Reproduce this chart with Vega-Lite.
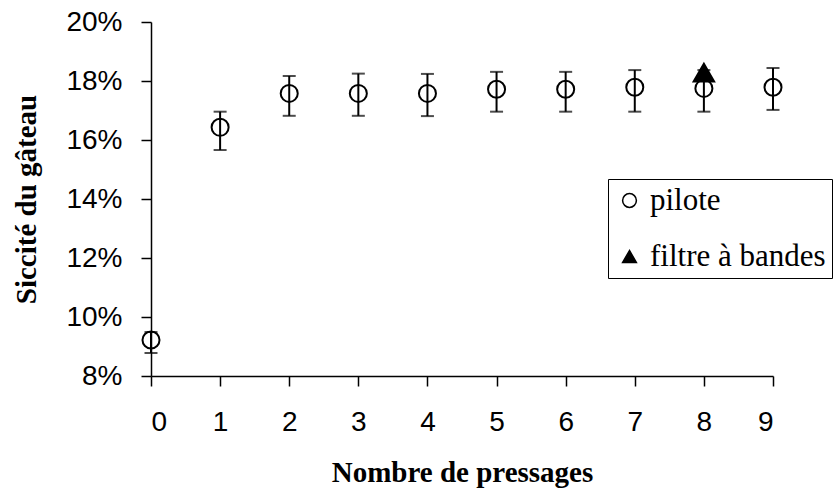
{
  "$schema": "https://vega.github.io/schema/vega-lite/v6.json",
  "autosize": "none",
  "width": 622,
  "height": 354,
  "padding": {"left": 151, "top": 22, "right": 61, "bottom": 117},
  "background": "white",
  "config": {
    "view": {"stroke": null},
    "axis": {
      "domainColor": "black", "domainWidth": 1.5, "tickColor": "black", "tickWidth": 1.5, "tickSize": 10,
      "labelFont": "Liberation Sans", "labelFontSize": 28, "labelColor": "black",
      "titleFont": "Liberation Serif", "titleFontSize": 29, "titleFontWeight": "bold", "titleColor": "black",
      "grid": false
    },
    "legend": {"labelFont": "Liberation Serif", "labelFontSize": 31, "labelColor": "black"}
  },
  "data": {"values": [
    {"series": "pilote", "x": 0, "y": 0.0922, "lo": 0.0878, "hi": 0.0949},
    {"series": "pilote", "x": 1, "y": 0.1643, "lo": 0.1566, "hi": 0.1696},
    {"series": "pilote", "x": 2, "y": 0.1758, "lo": 0.1682, "hi": 0.1817},
    {"series": "pilote", "x": 3, "y": 0.1758, "lo": 0.1682, "hi": 0.1825},
    {"series": "pilote", "x": 4, "y": 0.1758, "lo": 0.1681, "hi": 0.1824},
    {"series": "pilote", "x": 5, "y": 0.1772, "lo": 0.1696, "hi": 0.1831},
    {"series": "pilote", "x": 6, "y": 0.1772, "lo": 0.1696, "hi": 0.1831},
    {"series": "pilote", "x": 7, "y": 0.1779, "lo": 0.1696, "hi": 0.1837},
    {"series": "pilote", "x": 8, "y": 0.1775, "lo": 0.1696, "hi": 0.1837},
    {"series": "pilote", "x": 9, "y": 0.1779, "lo": 0.1702, "hi": 0.1844},
    {"series": "filtre à bandes", "x": 8, "y": 0.1828}
  ]},
  "layer": [
    {
      "transform": [{"filter": "datum.series === 'pilote'"}],
      "mark": {"type": "errorbar", "ticks": {"size": 13, "thickness": 2, "color": "black"}, "rule": {"strokeWidth": 2, "color": "black"}},
      "encoding": {
        "x": {"field": "x", "type": "quantitative", "scale": {"domain": [0, 9], "nice": false},
              "axis": {"values": [0,1,2,3,4,5,6,7,8,9], "format": "d", "title": "Nombre de pressages", "labelPadding": 22, "titlePadding": 22}},
        "y": {"field": "lo", "type": "quantitative", "scale": {"domain": [0.08, 0.20], "nice": false, "zero": false},
              "axis": {"values": [0.08,0.10,0.12,0.14,0.16,0.18,0.20], "format": ".0%", "title": "Siccité du gâteau", "labelPadding": 19, "titlePadding": 24}},
        "y2": {"field": "hi"}
      }
    },
    {
      "mark": {"type": "point", "strokeWidth": 2, "opacity": 1},
      "encoding": {
        "x": {"field": "x", "type": "quantitative"},
        "y": {"field": "y", "type": "quantitative"},
        "shape": {"field": "series", "type": "nominal",
          "scale": {"domain": ["pilote", "filtre à bandes"], "range": ["circle", "triangle-up"]},
          "legend": {"title": null, "orient": "none", "legendX": 457, "legendY": 157,
            "strokeColor": "black", "padding": 6, "labelFont": "Liberation Serif", "labelFontSize": 31, "labelColor": "black",
            "symbolSize": 190, "symbolStrokeWidth": 1.5, "rowPadding": 24, "labelOffset": 5, "labelLimit": 400}},
        "fill": {"field": "series", "type": "nominal",
          "scale": {"domain": ["pilote", "filtre à bandes"], "range": ["transparent", "black"]},
          "legend": {"title": null, "orient": "none", "legendX": 457, "legendY": 157,
            "strokeColor": "black", "padding": 6, "labelFont": "Liberation Serif", "labelFontSize": 31, "labelColor": "black",
            "symbolSize": 190, "symbolStrokeWidth": 1.5, "rowPadding": 24, "labelOffset": 5, "labelLimit": 400}},
        "stroke": {"field": "series", "type": "nominal",
          "scale": {"domain": ["pilote", "filtre à bandes"], "range": ["black", "black"]},
          "legend": {"title": null, "orient": "none", "legendX": 457, "legendY": 157,
            "strokeColor": "black", "padding": 6, "labelFont": "Liberation Serif", "labelFontSize": 31, "labelColor": "black",
            "symbolSize": 190, "symbolStrokeWidth": 1.5, "rowPadding": 24, "labelOffset": 5, "labelLimit": 400}},
        "size": {"condition": {"test": "datum.series === 'pilote'", "value": 290}, "value": 420}
      }
    }
  ]
}
